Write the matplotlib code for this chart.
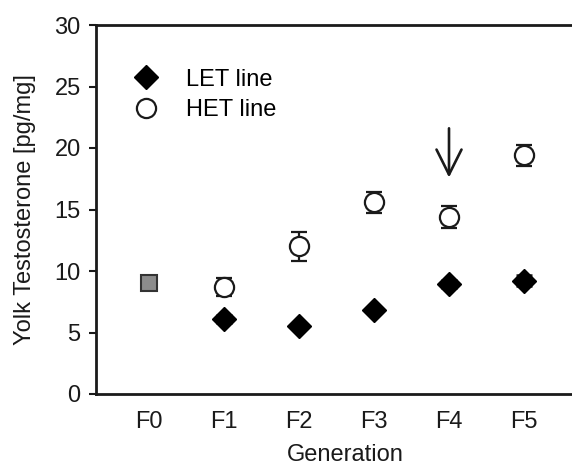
import matplotlib
matplotlib.use("Agg")
import matplotlib.pyplot as plt
from matplotlib.lines import Line2D

plt.rcParams['font.family'] = ['Liberation Sans', 'DejaVu Sans']

generations = ["F0", "F1", "F2", "F3", "F4", "F5"]
f0_value = 9.0
f0_err = 0.45
let_gen = [1, 2, 3, 4, 5]
let_values = [6.1, 5.55, 6.8, 8.95, 9.2]
let_err = [0.35, 0.2, 0.2, 0.3, 0.45]
het_gen = [1, 2, 3, 4, 5]
het_values = [8.7, 12.0, 15.6, 14.4, 19.4]
het_err = [0.75, 1.2, 0.85, 0.88, 0.88]
arrow_gen = 4
arrow_top, arrow_tip = 21.6, 17.6

fig = plt.figure(figsize=(5.72, 4.66), dpi=100)
ax = fig.add_axes([96/572, 72/466, 1 - 96/572, (394-25)/466])

dark = '#1a1a1a'
ms_d = 11.8
ms_o = 13.8
cap = 6.0
fs = 17

# F0 grey square
ax.errorbar([0], [f0_value], yerr=[f0_err], fmt='s', ms=11.5, mfc='#8c8c8c', mec='#333333',
            mew=1.5, ecolor=dark, elinewidth=1.5, capsize=cap, capthick=1.8, zorder=3)
# LET
ax.errorbar(let_gen, let_values, yerr=let_err, fmt='D', ms=ms_d, mfc='black', mec='black',
            ecolor=dark, elinewidth=1.5, capsize=cap, capthick=1.8, zorder=3)
# HET
ax.errorbar(het_gen, het_values, yerr=het_err, fmt='o', ms=ms_o, mfc='white', mec=dark,
            mew=1.6, ecolor=dark, elinewidth=1.6, capsize=cap, capthick=2.0, zorder=3)

ax.annotate('', xy=(arrow_gen, arrow_tip), xytext=(arrow_gen, arrow_top),
            arrowprops=dict(arrowstyle='->,head_length=1.8,head_width=0.9', lw=1.9, color=dark,
                            shrinkA=0, shrinkB=0))

handles = [Line2D([], [], marker='D', ls='none', ms=ms_d, mfc='black', mec='black'),
           Line2D([], [], marker='o', ls='none', ms=ms_o, mfc='white', mec=dark, mew=1.6)]
ax.legend(handles, ['LET line', 'HET line'], loc='upper left', bbox_to_anchor=(0.0796, 0.882),
          frameon=False, fontsize=fs, handlelength=1.0, handletextpad=1.2,
          labelspacing=0.36, borderpad=0, borderaxespad=0)

ax.set_xlim(-0.707, 5.64)
ax.set_ylim(0, 30)
ax.set_yticks([0, 5, 10, 15, 20, 25, 30])
ax.set_xticks(range(len(generations)))
ax.set_xticklabels(generations)
ax.tick_params(axis='y', direction='out', length=5, width=1.5, labelsize=fs, colors=dark, pad=6)
ax.tick_params(axis='x', length=0, labelsize=fs, colors=dark, pad=12)
for s in ['left', 'bottom', 'top']:
    ax.spines[s].set_linewidth(2)
    ax.spines[s].set_color(dark)
ax.spines['right'].set_visible(False)

ax.set_xlabel('Generation', fontsize=fs, color=dark)
ax.xaxis.set_label_coords(0.523, -0.136)
ax.set_ylabel('Yolk Testosterone [pg/mg]', fontsize=fs, color=dark, labelpad=13)

fig.savefig('out.png', dpi=100)
